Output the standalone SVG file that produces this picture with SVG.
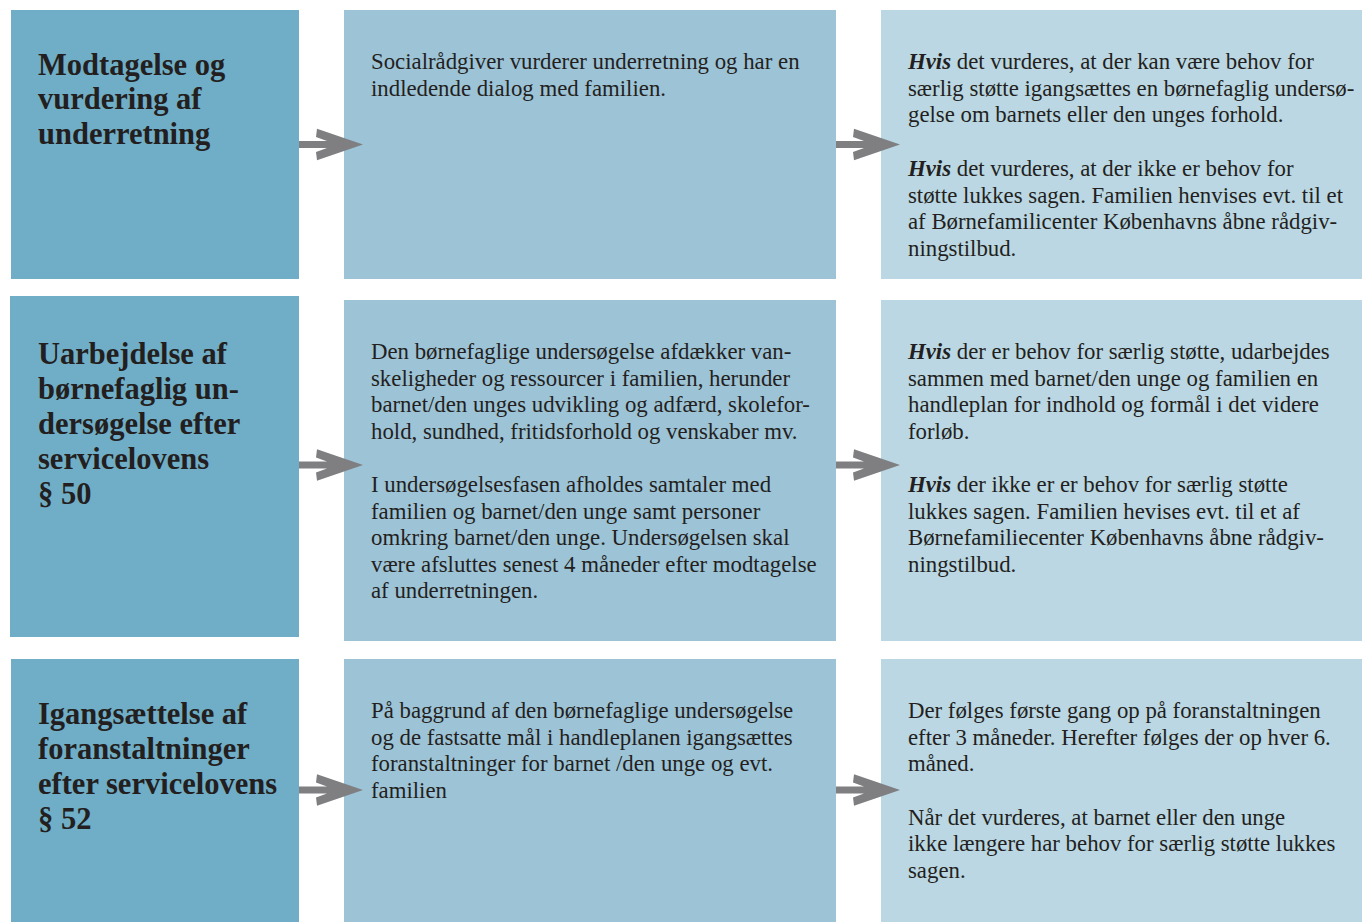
<svg xmlns="http://www.w3.org/2000/svg" xmlns:xlink="http://www.w3.org/1999/xlink" width="1362" height="922" viewBox="0 0 1362 922">
<style>
.c1{fill:#70aec7}
.c2{fill:#9dc3d7}
.c3{fill:#bad7e3}
.h{font-family:"Liberation Serif",serif;font-weight:bold;font-size:30.5px;fill:#231f20}
.t{font-family:"Liberation Serif",serif;font-size:22.8px;fill:#231f20}
.b{font-weight:bold;font-style:italic}
.arr{fill:#7f7f82}
</style>
<defs>
<path id="arrow" class="arr" d="M0,-3.6 L28,-3.6 L17,-7.6 L18,-15.8 L64,0 L18,15.8 L17,7.6 L28,3.6 L0,3.6 Z"/>
</defs>
<rect width="1362" height="922" fill="#ffffff"/>

<g id="row1-title">
<rect class="c1" x="11" y="10" width="288" height="269"/>
<text class="h" x="38" y="74.5">Modtagelse og</text>
<text class="h" x="38" y="109">vurdering af</text>
<text class="h" x="38" y="143.5">underretning</text>
</g>
<g id="row1-action">
<rect class="c2" x="344" y="10" width="492" height="269"/>
<text class="t" x="371" y="69">Socialrådgiver vurderer underretning og har en</text>
<text class="t" x="371" y="95.5">indledende dialog med familien.</text>
</g>
<g id="row1-outcome">
<rect class="c3" x="881" y="10" width="481" height="269"/>
<text class="t" x="908" y="69"><tspan class="b">Hvis</tspan> det vurderes, at der kan være behov for</text>
<text class="t" x="908" y="95.5">særlig støtte igangsættes en børnefaglig undersø-</text>
<text class="t" x="908" y="122">gelse om barnets eller den unges forhold.</text>
<text class="t" x="908" y="176"><tspan class="b">Hvis</tspan> det vurderes, at der ikke er behov for</text>
<text class="t" x="908" y="202.5">støtte lukkes sagen. Familien henvises evt. til et</text>
<text class="t" x="908" y="229">af Børnefamilicenter Københavns åbne rådgiv-</text>
<text class="t" x="908" y="255.5">ningstilbud.</text>
</g>

<g id="row2-title">
<rect class="c1" x="10" y="296" width="289" height="341"/>
<text class="h" x="38" y="363.5">Uarbejdelse af</text>
<text class="h" x="38" y="398.5">børnefaglig un-</text>
<text class="h" x="38" y="433.5">dersøgelse efter</text>
<text class="h" x="38" y="468.5">servicelovens</text>
<text class="h" x="38" y="503.5">§ 50</text>
</g>
<g id="row2-action">
<rect class="c2" x="344" y="300" width="492" height="341"/>
<text class="t" x="371" y="359">Den børnefaglige undersøgelse afdækker van-</text>
<text class="t" x="371" y="386">skeligheder og ressourcer i familien, herunder</text>
<text class="t" x="371" y="412">barnet/den unges udvikling og adfærd, skolefor-</text>
<text class="t" x="371" y="439">hold, sundhed, fritidsforhold og venskaber mv.</text>
<text class="t" x="371" y="492">I undersøgelsesfasen afholdes samtaler med</text>
<text class="t" x="371" y="519">familien og barnet/den unge samt personer</text>
<text class="t" x="371" y="545">omkring barnet/den unge. Undersøgelsen skal</text>
<text class="t" x="371" y="572">være afsluttes senest 4 måneder efter modtagelse</text>
<text class="t" x="371" y="598">af underretningen.</text>
</g>
<g id="row2-outcome">
<rect class="c3" x="881" y="300" width="481" height="341"/>
<text class="t" x="908" y="359"><tspan class="b">Hvis</tspan> der er behov for særlig støtte, udarbejdes</text>
<text class="t" x="908" y="386">sammen med barnet/den unge og familien en</text>
<text class="t" x="908" y="412">handleplan for indhold og formål i det videre</text>
<text class="t" x="908" y="439">forløb.</text>
<text class="t" x="908" y="492"><tspan class="b">Hvis</tspan> der ikke er er behov for særlig støtte</text>
<text class="t" x="908" y="519">lukkes sagen. Familien hevises evt. til et af</text>
<text class="t" x="908" y="545">Børnefamiliecenter Københavns åbne rådgiv-</text>
<text class="t" x="908" y="572">ningstilbud.</text>
</g>

<g id="row3-title">
<rect class="c1" x="11" y="659" width="288" height="263"/>
<text class="h" x="38" y="723.5">Igangsættelse af</text>
<text class="h" x="38" y="758.5">foranstaltninger</text>
<text class="h" x="38" y="793.5">efter servicelovens</text>
<text class="h" x="38" y="828.5">§ 52</text>
</g>
<g id="row3-action">
<rect class="c2" x="344" y="659" width="492" height="263"/>
<text class="t" x="371" y="718">På baggrund af den børnefaglige undersøgelse</text>
<text class="t" x="371" y="745">og de fastsatte mål i handleplanen igangsættes</text>
<text class="t" x="371" y="771">foranstaltninger for barnet /den unge og evt.</text>
<text class="t" x="371" y="798">familien</text>
</g>
<g id="row3-outcome">
<rect class="c3" x="881" y="659" width="481" height="263"/>
<text class="t" x="908" y="718">Der følges første gang op på foranstaltningen</text>
<text class="t" x="908" y="745">efter 3 måneder. Herefter følges der op hver 6.</text>
<text class="t" x="908" y="771">måned.</text>
<text class="t" x="908" y="825">Når det vurderes, at barnet eller den unge</text>
<text class="t" x="908" y="851">ikke længere har behov for særlig støtte lukkes</text>
<text class="t" x="908" y="878">sagen.</text>
</g>

<g id="connectors">
<use xlink:href="#arrow" x="299" y="144.5"/>
<use xlink:href="#arrow" x="836" y="144.5"/>
<use xlink:href="#arrow" x="299" y="465"/>
<use xlink:href="#arrow" x="836" y="465"/>
<use xlink:href="#arrow" x="299" y="790"/>
<use xlink:href="#arrow" x="836" y="790"/>
</g>
</svg>
